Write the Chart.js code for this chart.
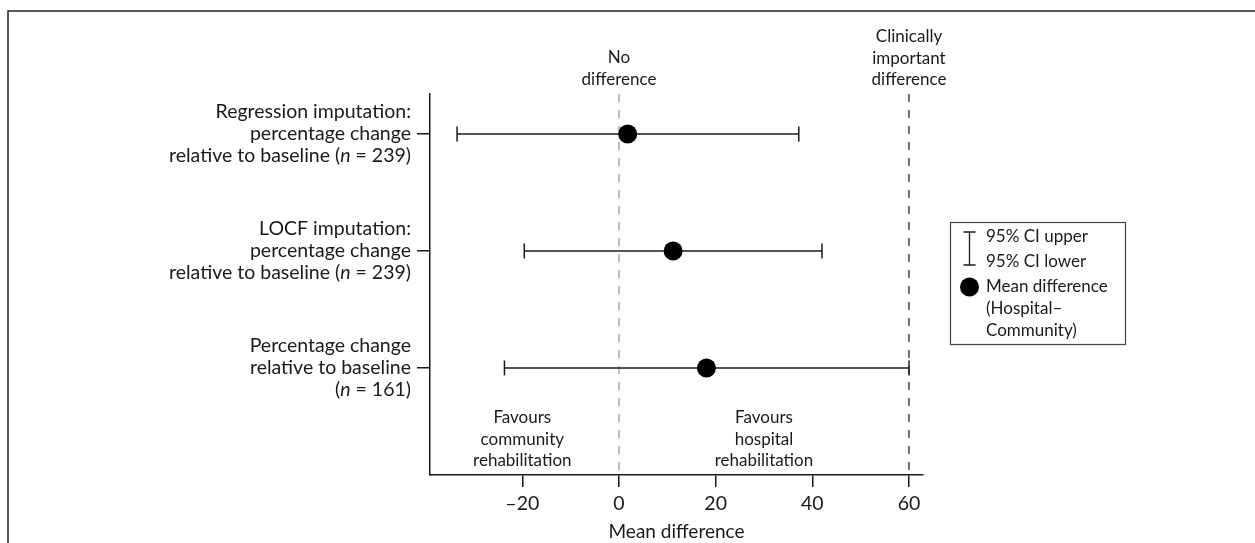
<!DOCTYPE html>
<html>
<head>
<meta charset="utf-8">
<script src="https://cdn.jsdelivr.net/npm/chart.js@4/dist/chart.umd.min.js"></script>
<style>
  html, body { margin: 0; padding: 0; background: #fff; }
  #wrap { width: 1255px; height: 543px; }
</style>
</head>
<body>
<div id="wrap"><canvas id="forest" width="1255" height="543"></canvas></div>
<script>
// Row labels (top to bottom); _n_ marks the italic sample-size symbol
const rowLabels = [
  ['Regression imputation:', 'percentage change', 'relative to baseline (_n_ = 239)'],
  ['LOCF imputation:', 'percentage change', 'relative to baseline (_n_ = 239)'],
  ['Percentage change', 'relative to baseline', '(_n_ = 161)']
];
const rowPos = [3, 2, 1];

// Mean difference (Hospital – Community) with 95% CI
const meanDiff = [1.8, 11.2, 18.1];
const ciLower = [-33.5, -19.6, -23.7];
const ciUpper = [37.2, 42.0, 60.0];

// Axis ticks
const xTicks = [-20, 0, 20, 40, 60];

// Reference lines and their captions
const noDiffValue = 0;
const noDiffLabel = ['No', 'difference'];
const clinicalValue = 60;
const clinicalLabel = ['Clinically', 'important', 'difference'];

// Direction captions below the rows
const favourPos = [-20, 30];
const favourLabels = [
  ['Favours', 'community', 'rehabilitation'],
  ['Favours', 'hospital', 'rehabilitation']
];

// Legend entries
const legendCI = ['95% CI upper', '95% CI lower'];
const legendMean = ['Mean difference', '(Hospital\u2013', 'Community)'];

const FONT = 'Lato, "Open Sans", sans-serif';
const INK = '#1a1a1a';
const Y_MIN = 0.085, Y_MAX = 3.342;

const datasets = [];
// mean markers on top
datasets.push({
  type: 'scatter',
  order: 0,
  data: rowPos.map((y, i) => ({ x: meanDiff[i], y })),
  pointRadius: 9.5,
  pointHoverRadius: 9.5,
  pointBackgroundColor: '#000',
  pointBorderWidth: 0
});
// confidence-interval whiskers with end caps
rowPos.forEach((y, i) => {
  datasets.push({
    type: 'line',
    order: 1,
    data: [{ x: ciLower[i], y }, { x: ciUpper[i], y }],
    borderColor: INK,
    borderWidth: 1.5,
    pointStyle: 'line',
    pointRotation: 90,
    pointRadius: 7.5,
    pointHoverRadius: 7.5,
    pointBorderColor: INK,
    pointBorderWidth: 1.5,
    fill: false
  });
});
// reference lines
datasets.push({
  type: 'line',
  order: 2,
  data: [{ x: noDiffValue, y: Y_MAX }, { x: noDiffValue, y: Y_MIN }],
  borderColor: '#9a9a9a',
  borderWidth: 1.3,
  borderDash: [8, 8],
  pointRadius: 0,
  fill: false
});
datasets.push({
  type: 'line',
  order: 2,
  data: [{ x: clinicalValue, y: Y_MAX }, { x: clinicalValue, y: Y_MIN }],
  borderColor: '#333',
  borderWidth: 1.4,
  borderDash: [8, 8],
  pointRadius: 0,
  fill: false
});

function drawRich(ctx, text, xRight, y, size) {
  const parts = text.split('_');
  const fonts = parts.map((p, k) => (k % 2 === 1 ? 'italic ' : '') + size + 'px ' + FONT);
  let total = 0;
  parts.forEach((p, k) => { ctx.font = fonts[k]; total += ctx.measureText(p).width; });
  let x = xRight - total;
  ctx.textAlign = 'left';
  parts.forEach((p, k) => {
    ctx.font = fonts[k];
    ctx.fillText(p, x, y);
    x += ctx.measureText(p).width;
  });
}

function centeredLines(ctx, lines, x, yFirst, lh) {
  ctx.textAlign = 'center';
  lines.forEach((t, j) => ctx.fillText(t, x, yFirst + j * lh));
}

const framePlugin = {
  id: 'frame',
  beforeDraw(chart) {
    const ctx = chart.ctx;
    ctx.save();
    ctx.fillStyle = '#fff';
    ctx.fillRect(0, 0, chart.width, chart.height);
    ctx.strokeStyle = '#222';
    ctx.lineWidth = 1.5;
    ctx.beginPath();
    ctx.moveTo(chart.width, 11);
    ctx.lineTo(8, 11);
    ctx.lineTo(8, chart.height);
    ctx.stroke();
    ctx.restore();
  }
};

const textPlugin = {
  id: 'texts',
  afterDraw(chart) {
    const ctx = chart.ctx;
    const xs = chart.scales.x, ys = chart.scales.y;
    ctx.save();
    ctx.fillStyle = INK;
    ctx.textBaseline = 'middle';

    // row labels
    const lh = 22;
    rowLabels.forEach((lines, i) => {
      const yc = ys.getPixelForValue(rowPos[i]);
      lines.forEach((t, j) => {
        drawRich(ctx, t, ys.right - 19, yc + (j - (lines.length - 1) / 2) * lh, 19.5);
      });
    });

    // reference-line captions
    ctx.font = '17px ' + FONT;
    centeredLines(ctx, noDiffLabel, xs.getPixelForValue(noDiffValue), 58, 22);
    centeredLines(ctx, clinicalLabel, xs.getPixelForValue(clinicalValue), 37, 21.5);

    // direction captions
    favourLabels.forEach((lines, k) => {
      centeredLines(ctx, lines, xs.getPixelForValue(favourPos[k]), 418, 21.5);
    });

    // legend
    const bx = 950, by = 222, bw = 175, bh = 122;
    ctx.strokeStyle = '#444';
    ctx.lineWidth = 1.2;
    ctx.strokeRect(bx + 0.5, by + 0.5, bw, bh);
    ctx.strokeStyle = INK;
    ctx.lineWidth = 1.3;
    const ix = 969.5;
    ctx.beginPath();
    ctx.moveTo(ix, 232); ctx.lineTo(ix, 265);
    ctx.moveTo(ix - 6, 232); ctx.lineTo(ix + 6, 232);
    ctx.moveTo(ix - 6, 265); ctx.lineTo(ix + 6, 265);
    ctx.stroke();
    ctx.fillStyle = '#000';
    ctx.beginPath();
    ctx.arc(969.5, 287, 9.5, 0, Math.PI * 2);
    ctx.fill();
    ctx.fillStyle = INK;
    ctx.font = '17px ' + FONT;
    ctx.textAlign = 'left';
    ctx.fillText(legendCI[0], 986, 237);
    ctx.fillText(legendCI[1], 986, 262);
    legendMean.forEach((t, j) => ctx.fillText(t, 986, 287 + j * 22));
    ctx.restore();
  }
};

new Chart(document.getElementById('forest'), {
  data: { datasets },
  options: {
    responsive: false,
    animation: false,
    events: [],
    clip: false,
    layout: { padding: { top: 94, right: 332, left: 0, bottom: 0 } },
    plugins: { legend: { display: false }, tooltip: { enabled: false } },
    scales: {
      x: {
        type: 'linear',
        min: -39.1,
        max: 62.9,
        afterBuildTicks: s => { s.ticks = xTicks.map(v => ({ value: v })); },
        afterFit: s => { s.height = 68; },
        border: { display: true, color: INK, width: 1.5 },
        grid: { drawOnChartArea: false, drawTicks: true, tickLength: 12, color: INK, lineWidth: 1.5 },
        ticks: {
          color: INK,
          font: { family: FONT, size: 19.5 },
          padding: 5,
          maxRotation: 0,
          autoSkip: false,
          callback: v => (v < 0 ? '\u2013' + Math.abs(v) : String(v))
        },
        title: {
          display: true,
          text: 'Mean difference',
          color: INK,
          font: { family: FONT, size: 19 },
          padding: { top: 0, bottom: 0 }
        }
      },
      y: {
        type: 'linear',
        min: Y_MIN,
        max: Y_MAX,
        afterBuildTicks: s => { s.ticks = rowPos.map(v => ({ value: v })); },
        afterFit: s => { s.width = 430; },
        border: { display: true, color: INK, width: 1.5 },
        grid: { drawOnChartArea: false, drawTicks: true, tickLength: 13, color: INK, lineWidth: 1.5 },
        ticks: { display: false }
      }
    }
  },
  plugins: [framePlugin, textPlugin]
});
</script>
</body>
</html>
